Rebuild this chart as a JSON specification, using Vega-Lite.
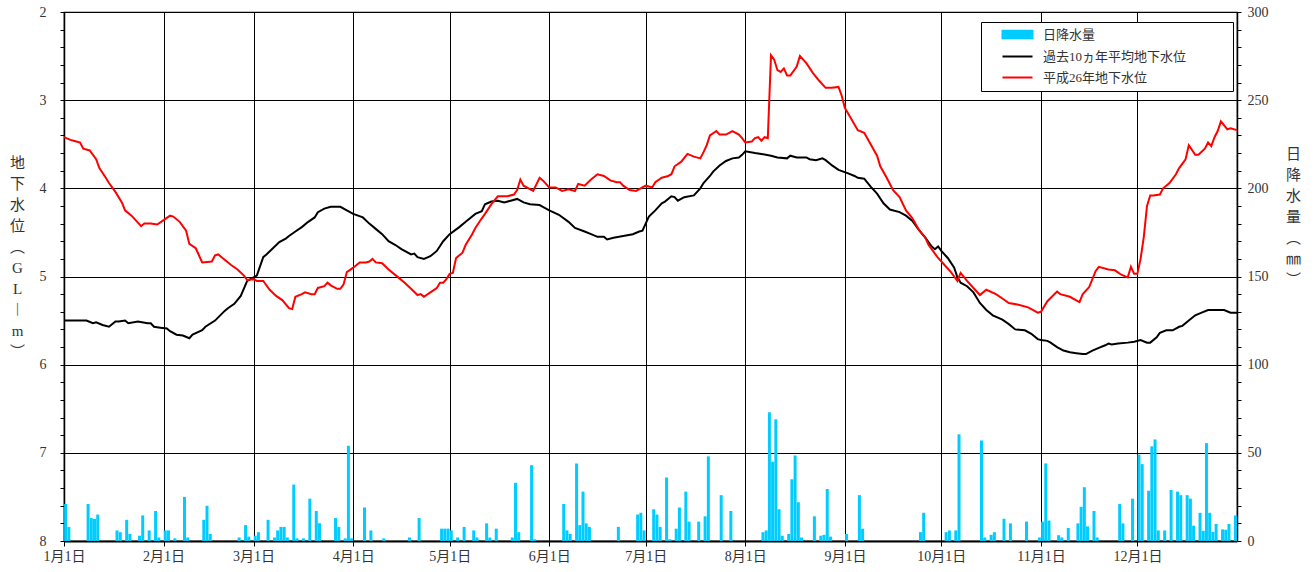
{
  "$schema": "https://vega.github.io/schema/vega-lite/v6.json",
  "width": 1173,
  "height": 529,
  "autosize": {"type": "none"},
  "padding": {"left": 64, "top": 12, "right": 78, "bottom": 31},
  "background": "white",
  "config": {
    "font": "Liberation Serif, Noto Sans CJK JP",
    "view": {"stroke": "#000", "strokeWidth": 1.2},
    "axis": {"labelFont": "Liberation Serif, Noto Sans CJK JP", "titleFont": "Liberation Serif, Noto Sans CJK JP", "labelColor": "#333", "titleColor": "#333", "tickColor": "#000", "domainColor": "#000", "labelOverlap": false, "labelBound": false, "labelFlush": false, "titleFontWeight": "normal"}
  },
  "datasets": {
    "rain": [
      {"day":0,"mm":21},{"day":1,"mm":8},{"day":7,"mm":21},{"day":8,"mm":13},{"day":9,"mm":12.5},{"day":10,"mm":15},{"day":16,"mm":6},{"day":17,"mm":5},{"day":19,"mm":12},{"day":20,"mm":4},{"day":23,"mm":3},{"day":24,"mm":14.5},{"day":26,"mm":6},{"day":28,"mm":17},{"day":29,"mm":2},{"day":31,"mm":6},{"day":32,"mm":6},{"day":34,"mm":1.5},{"day":37,"mm":25},{"day":38,"mm":2},{"day":43,"mm":12},{"day":44,"mm":20},{"day":45,"mm":4},{"day":54,"mm":2},{"day":56,"mm":9},{"day":57,"mm":2.5},{"day":59,"mm":3},{"day":60,"mm":5},
      {"day":63,"mm":12},{"day":65,"mm":2},{"day":66,"mm":6},{"day":67,"mm":8},{"day":68,"mm":8},{"day":69,"mm":2},{"day":71,"mm":32},{"day":72,"mm":1.5},{"day":74,"mm":1.5},{"day":76,"mm":24},{"day":78,"mm":17},{"day":79,"mm":10},{"day":84,"mm":13},{"day":85,"mm":8},{"day":87,"mm":1.5},{"day":88,"mm":54},{"day":89,"mm":1.5},{"day":93,"mm":19},{"day":95,"mm":6},{"day":99,"mm":1.5},{"day":107,"mm":2},{"day":110,"mm":13},{"day":117,"mm":7},{"day":118,"mm":7},{"day":119,"mm":7},
      {"day":120,"mm":6},{"day":122,"mm":2},{"day":124,"mm":8},{"day":127,"mm":6},{"day":128,"mm":2},{"day":131,"mm":10},{"day":132,"mm":2},{"day":134,"mm":7},{"day":139,"mm":2},{"day":140,"mm":33},{"day":141,"mm":5},{"day":145,"mm":43},{"day":146,"mm":1},{"day":155,"mm":21},{"day":156,"mm":6},{"day":157,"mm":4},{"day":159,"mm":44},{"day":160,"mm":9},{"day":161,"mm":28},{"day":162,"mm":10},{"day":163,"mm":8},{"day":172,"mm":8},{"day":178,"mm":15},{"day":179,"mm":16},{"day":180,"mm":6},
      {"day":183,"mm":18},{"day":184,"mm":15},{"day":185,"mm":8},{"day":187,"mm":36},{"day":188,"mm":1},{"day":190,"mm":7},{"day":191,"mm":19},{"day":193,"mm":28},{"day":194,"mm":11},{"day":197,"mm":11},{"day":199,"mm":14},{"day":200,"mm":48},{"day":204,"mm":26},{"day":207,"mm":17},
      {"day":217,"mm":5},{"day":218,"mm":6},{"day":219,"mm":73},{"day":220,"mm":45},{"day":221,"mm":69},{"day":222,"mm":18},{"day":223,"mm":3},{"day":225,"mm":4},{"day":226,"mm":35},{"day":227,"mm":48.5},{"day":228,"mm":22},{"day":229,"mm":2},{"day":233,"mm":14},{"day":235,"mm":3},{"day":236,"mm":3.5},{"day":237,"mm":29.5},{"day":238,"mm":2.5},
      {"day":243,"mm":4},{"day":247,"mm":26},{"day":248,"mm":7},{"day":266,"mm":5},{"day":267,"mm":16},{"day":274,"mm":5},{"day":275,"mm":6},{"day":277,"mm":6},{"day":278,"mm":60.5},{"day":285,"mm":57},{"day":286,"mm":2},{"day":288,"mm":3.5},{"day":289,"mm":5},{"day":292,"mm":12.6},{"day":294,"mm":10},{"day":299,"mm":11},{"day":303,"mm":2},
      {"day":304,"mm":11},{"day":305,"mm":44},{"day":306,"mm":11.6},{"day":309,"mm":3.3},{"day":310,"mm":2},{"day":312,"mm":7.4},{"day":315,"mm":10},{"day":316,"mm":19.4},{"day":317,"mm":30.5},{"day":318,"mm":8.3},{"day":320,"mm":17},{"day":321,"mm":2},{"day":328,"mm":21},{"day":329,"mm":10},{"day":332,"mm":24},
      {"day":334,"mm":49},{"day":335,"mm":43.6},{"day":337,"mm":28.5},{"day":338,"mm":53.7},{"day":339,"mm":57.6},{"day":340,"mm":6},{"day":342,"mm":6},{"day":344,"mm":29},{"day":346,"mm":28},{"day":347,"mm":26},{"day":349,"mm":26},{"day":350,"mm":24},{"day":351,"mm":8.7},{"day":353,"mm":16},{"day":354,"mm":5.8},{"day":355,"mm":55.5},{"day":356,"mm":16},{"day":357,"mm":5.2},{"day":358,"mm":9.7},{"day":360,"mm":6.6},{"day":361,"mm":6.4},{"day":362,"mm":9.7},{"day":364,"mm":14.5}
    ],
    "avg": [
      {"day":0,"m":5.50},{"day":3,"m":5.50},{"day":7,"m":5.50},{"day":9,"m":5.53},{"day":10,"m":5.52},{"day":12,"m":5.55},{"day":14,"m":5.57},{"day":16,"m":5.51},{"day":17,"m":5.51},{"day":19,"m":5.50},{"day":20,"m":5.53},{"day":23,"m":5.51},{"day":26,"m":5.53},{"day":27,"m":5.53},{"day":28,"m":5.57},{"day":30,"m":5.58},{"day":32,"m":5.59},{"day":33,"m":5.62},{"day":35,"m":5.66},{"day":37,"m":5.67},{"day":39,"m":5.70},{"day":40,"m":5.66},{"day":43,"m":5.61},{"day":44,"m":5.57},{"day":47,"m":5.50},{"day":50,"m":5.39},{"day":51,"m":5.36},{"day":53,"m":5.31},{"day":55,"m":5.22},{"day":57,"m":5.05},{"day":59,"m":5.01},{"day":60,"m":4.99},
      {"day":62,"m":4.78},{"day":63,"m":4.75},{"day":65,"m":4.68},{"day":67,"m":4.61},{"day":69,"m":4.57},{"day":70,"m":4.54},{"day":72,"m":4.49},{"day":74,"m":4.44},{"day":76,"m":4.38},{"day":78,"m":4.33},{"day":79,"m":4.27},{"day":81,"m":4.23},{"day":83,"m":4.21},{"day":86,"m":4.21},{"day":88,"m":4.25},{"day":90,"m":4.29},{"day":93,"m":4.33},{"day":95,"m":4.40},{"day":97,"m":4.46},{"day":99,"m":4.52},{"day":101,"m":4.60},{"day":103,"m":4.64},{"day":105,"m":4.69},{"day":108,"m":4.75},{"day":109,"m":4.74},{"day":110,"m":4.78},{"day":112,"m":4.80},{"day":114,"m":4.77},{"day":116,"m":4.71},{"day":118,"m":4.60},
      {"day":120,"m":4.52},{"day":123,"m":4.44},{"day":125,"m":4.38},{"day":128,"m":4.29},{"day":130,"m":4.26},{"day":131,"m":4.18},{"day":133,"m":4.15},{"day":135,"m":4.14},{"day":137,"m":4.16},{"day":139,"m":4.14},{"day":141,"m":4.12},{"day":143,"m":4.16},{"day":145,"m":4.18},{"day":148,"m":4.19},{"day":149,"m":4.21},{"day":151,"m":4.25},{"day":154,"m":4.30},{"day":157,"m":4.38},{"day":159,"m":4.45},{"day":162,"m":4.49},{"day":164,"m":4.52},{"day":166,"m":4.55},{"day":168,"m":4.55},{"day":169,"m":4.58},{"day":171,"m":4.56},{"day":174,"m":4.54},{"day":177,"m":4.52},{"day":179,"m":4.49},{"day":180,"m":4.48},
      {"day":181,"m":4.40},{"day":182,"m":4.32},{"day":184,"m":4.25},{"day":186,"m":4.17},{"day":187,"m":4.15},{"day":189,"m":4.09},{"day":190,"m":4.10},{"day":191,"m":4.14},{"day":193,"m":4.10},{"day":196,"m":4.08},{"day":198,"m":4.00},{"day":199,"m":3.94},{"day":201,"m":3.86},{"day":202,"m":3.81},{"day":204,"m":3.74},{"day":206,"m":3.69},{"day":208,"m":3.66},{"day":210,"m":3.65},{"day":211,"m":3.62},{"day":212,"m":3.58},{"day":215,"m":3.60},{"day":217,"m":3.61},{"day":220,"m":3.63},{"day":222,"m":3.65},{"day":225,"m":3.66},{"day":226,"m":3.63},{"day":228,"m":3.65},{"day":231,"m":3.65},{"day":232,"m":3.67},{"day":234,"m":3.68},{"day":236,"m":3.66},{"day":237,"m":3.68},{"day":239,"m":3.74},{"day":241,"m":3.79},
      {"day":244,"m":3.83},{"day":246,"m":3.86},{"day":247,"m":3.88},{"day":249,"m":3.89},{"day":251,"m":3.98},{"day":253,"m":4.06},{"day":255,"m":4.17},{"day":257,"m":4.24},{"day":260,"m":4.27},{"day":262,"m":4.31},{"day":264,"m":4.37},{"day":266,"m":4.47},{"day":268,"m":4.56},{"day":270,"m":4.66},{"day":271,"m":4.69},{"day":272,"m":4.66},{"day":273,"m":4.71},{"day":275,"m":4.79},{"day":277,"m":4.90},{"day":278,"m":5.01},{"day":279,"m":5.07},{"day":281,"m":5.11},{"day":283,"m":5.18},{"day":285,"m":5.30},{"day":287,"m":5.38},{"day":289,"m":5.44},{"day":292,"m":5.49},{"day":294,"m":5.54},{"day":296,"m":5.60},{"day":299,"m":5.61},{"day":301,"m":5.65},{"day":303,"m":5.71},
      {"day":304,"m":5.72},{"day":306,"m":5.73},{"day":307,"m":5.75},{"day":309,"m":5.80},{"day":311,"m":5.84},{"day":313,"m":5.86},{"day":315,"m":5.87},{"day":317,"m":5.88},{"day":318,"m":5.88},{"day":320,"m":5.84},{"day":322,"m":5.81},{"day":324,"m":5.78},{"day":325,"m":5.76},{"day":326,"m":5.77},{"day":328,"m":5.76},{"day":331,"m":5.75},{"day":333,"m":5.74},{"day":335,"m":5.72},{"day":337,"m":5.75},{"day":338,"m":5.75},{"day":340,"m":5.69},{"day":341,"m":5.64},{"day":343,"m":5.61},{"day":345,"m":5.61},{"day":347,"m":5.57},{"day":348,"m":5.56},{"day":350,"m":5.50},{"day":352,"m":5.44},{"day":354,"m":5.41},{"day":356,"m":5.38},{"day":358,"m":5.38},{"day":361,"m":5.38},{"day":363,"m":5.41},{"day":365,"m":5.41}
    ],
    "h26": [
      {"day":0,"m":3.42},{"day":2,"m":3.45},{"day":3,"m":3.46},{"day":5,"m":3.48},{"day":6,"m":3.55},{"day":8,"m":3.57},{"day":10,"m":3.67},{"day":11,"m":3.77},{"day":13,"m":3.88},{"day":14,"m":3.94},{"day":16,"m":4.04},{"day":18,"m":4.16},{"day":19,"m":4.25},{"day":21,"m":4.31},{"day":24,"m":4.43},{"day":25,"m":4.40},{"day":27,"m":4.40},{"day":29,"m":4.41},{"day":31,"m":4.36},{"day":33,"m":4.31},{"day":34,"m":4.32},{"day":36,"m":4.38},{"day":38,"m":4.48},{"day":39,"m":4.63},{"day":41,"m":4.68},{"day":43,"m":4.84},{"day":46,"m":4.83},{"day":47,"m":4.76},{"day":48,"m":4.75},{"day":50,"m":4.81},{"day":52,"m":4.87},{"day":54,"m":4.92},{"day":56,"m":4.99},{"day":57,"m":5.04},{"day":59,"m":5.03},
      {"day":60,"m":5.05},{"day":62,"m":5.05},{"day":64,"m":5.15},{"day":66,"m":5.22},{"day":68,"m":5.27},{"day":70,"m":5.36},{"day":71,"m":5.37},{"day":72,"m":5.23},{"day":74,"m":5.20},{"day":75,"m":5.18},{"day":77,"m":5.20},{"day":78,"m":5.20},{"day":79,"m":5.13},{"day":81,"m":5.11},{"day":82,"m":5.07},{"day":83,"m":5.10},{"day":85,"m":5.14},{"day":86,"m":5.14},{"day":87,"m":5.09},{"day":88,"m":4.95},{"day":90,"m":4.90},{"day":92,"m":4.84},{"day":94,"m":4.84},{"day":95,"m":4.83},{"day":96,"m":4.80},{"day":97,"m":4.84},{"day":99,"m":4.85},{"day":101,"m":4.92},{"day":104,"m":5.01},{"day":106,"m":5.07},{"day":108,"m":5.14},{"day":110,"m":5.21},{"day":111,"m":5.20},{"day":112,"m":5.23},{"day":114,"m":5.18},{"day":116,"m":5.13},{"day":117,"m":5.07},{"day":118,"m":5.07},{"day":119,"m":5.03},
      {"day":120,"m":4.97},{"day":121,"m":4.96},{"day":122,"m":4.79},{"day":124,"m":4.73},{"day":125,"m":4.64},{"day":127,"m":4.52},{"day":128,"m":4.45},{"day":130,"m":4.34},{"day":131,"m":4.29},{"day":133,"m":4.18},{"day":135,"m":4.09},{"day":138,"m":4.09},{"day":140,"m":4.07},{"day":141,"m":4.02},{"day":142,"m":3.90},{"day":143,"m":3.97},{"day":146,"m":4.03},{"day":148,"m":3.88},{"day":149,"m":3.91},{"day":151,"m":3.99},{"day":153,"m":3.99},{"day":155,"m":4.03},{"day":157,"m":4.01},{"day":159,"m":4.03},{"day":160,"m":3.95},{"day":162,"m":3.97},{"day":164,"m":3.90},{"day":166,"m":3.84},{"day":168,"m":3.86},{"day":170,"m":3.91},{"day":172,"m":3.93},{"day":173,"m":3.93},{"day":174,"m":3.97},{"day":176,"m":4.02},{"day":178,"m":4.03},{"day":180,"m":3.99},
      {"day":181,"m":3.97},{"day":182,"m":3.98},{"day":183,"m":3.99},{"day":184,"m":3.93},{"day":186,"m":3.88},{"day":188,"m":3.86},{"day":189,"m":3.84},{"day":190,"m":3.75},{"day":192,"m":3.70},{"day":194,"m":3.61},{"day":196,"m":3.64},{"day":198,"m":3.66},{"day":199,"m":3.59},{"day":200,"m":3.51},{"day":201,"m":3.40},{"day":203,"m":3.35},{"day":204,"m":3.39},{"day":206,"m":3.39},{"day":208,"m":3.35},{"day":210,"m":3.39},{"day":211,"m":3.43},{"day":212,"m":3.48},{"day":214,"m":3.47},{"day":215,"m":3.43},{"day":216,"m":3.42},{"day":217,"m":3.46},{"day":218,"m":3.42},{"day":219,"m":3.43},{"day":220,"m":2.49},{"day":221,"m":2.54},{"day":222,"m":2.66},{"day":223,"m":2.68},{"day":224,"m":2.64},{"day":225,"m":2.72},{"day":226,"m":2.72},{"day":228,"m":2.62},{"day":229,"m":2.50},{"day":231,"m":2.58},{"day":233,"m":2.69},{"day":235,"m":2.78},{"day":237,"m":2.86},{"day":239,"m":2.86},{"day":241,"m":2.85},{"day":242,"m":2.95},
      {"day":243,"m":3.09},{"day":244,"m":3.15},{"day":247,"m":3.34},{"day":249,"m":3.37},{"day":251,"m":3.50},{"day":253,"m":3.63},{"day":254,"m":3.75},{"day":256,"m":3.88},{"day":258,"m":4.02},{"day":260,"m":4.10},{"day":262,"m":4.25},{"day":264,"m":4.34},{"day":266,"m":4.47},{"day":268,"m":4.56},{"day":269,"m":4.64},{"day":271,"m":4.74},{"day":272,"m":4.79},{"day":274,"m":4.87},{"day":276,"m":4.95},{"day":277,"m":5.00},{"day":278,"m":5.05},{"day":279,"m":4.96},{"day":281,"m":5.05},{"day":283,"m":5.13},{"day":285,"m":5.21},{"day":287,"m":5.15},{"day":290,"m":5.20},{"day":292,"m":5.25},{"day":294,"m":5.30},{"day":297,"m":5.32},{"day":300,"m":5.35},{"day":302,"m":5.39},{"day":303,"m":5.41},
      {"day":304,"m":5.40},{"day":306,"m":5.28},{"day":309,"m":5.17},{"day":310,"m":5.20},{"day":313,"m":5.23},{"day":315,"m":5.27},{"day":316,"m":5.29},{"day":317,"m":5.20},{"day":319,"m":5.12},{"day":321,"m":4.94},{"day":322,"m":4.89},{"day":325,"m":4.92},{"day":327,"m":4.93},{"day":329,"m":4.98},{"day":331,"m":5.01},{"day":332,"m":4.89},{"day":333,"m":4.97},{"day":334,"m":4.97},{"day":335,"m":4.80},{"day":336,"m":4.55},{"day":337,"m":4.20},{"day":338,"m":4.08},{"day":339,"m":4.08},{"day":341,"m":4.07},{"day":342,"m":4.00},{"day":344,"m":3.94},{"day":346,"m":3.84},{"day":347,"m":3.77},{"day":349,"m":3.67},{"day":350,"m":3.51},{"day":352,"m":3.62},{"day":353,"m":3.62},{"day":355,"m":3.55},{"day":356,"m":3.48},{"day":357,"m":3.52},{"day":358,"m":3.42},{"day":359,"m":3.35},{"day":360,"m":3.24},{"day":362,"m":3.33},{"day":363,"m":3.32},{"day":365,"m":3.34}
    ]
  },
  "encoding": {
    "x": {
      "field": "day",
      "type": "quantitative",
      "scale": {"domain": [0, 365], "nice": false, "zero": false, "padding": 0},
      "axis": {
        "title": null,
        "values": [0, 31, 59, 90, 120, 151, 181, 212, 243, 273, 304, 334],
        "labelExpr": "['1月1日','2月1日','3月1日','4月1日','5月1日','6月1日','7月1日','8月1日','9月1日','10月1日','11月1日','12月1日'][indexof([0,31,59,90,120,151,181,212,243,273,304,334], datum.value)]",
        "grid": true,
        "gridColor": "#000",
        "gridWidth": 1,
        "domainWidth": 2,
        "tickSize": 5,
        "labelFontSize": 14,
        "labelPadding": 3
      }
    }
  },
  "layer": [
    {
      "data": {"name": "rain"},
      "mark": {"type": "bar", "size": 3, "xOffset": 1.6},
      "encoding": {
        "y": {
          "field": "mm",
          "type": "quantitative",
          "scale": {"domain": [0, 300], "nice": false, "zero": true},
          "axis": {
            "orient": "right",
            "values": [0,10,20,30,40,50,60,70,80,90,100,110,120,130,140,150,160,170,180,190,200,210,220,230,240,250,260,270,280,290,300],
            "labelExpr": "datum.value % 50 == 0 ? format(datum.value, 'd') : ''",
            "grid": false,
            "tickSize": 4,
            "domainWidth": 1.5,
            "labelFontSize": 14,
            "labelPadding": 6,
            "title": ["日", "降", "水", "量", "︵", "㎜", "︶"],
            "titleAngle": 0,
            "titleX": 56,
            "titleY": 141,
            "titleAlign": "center",
            "titleBaseline": "middle",
            "titleLineHeight": 21,
            "titleFontSize": 15
          }
        },
        "color": {
          "datum": "日降水量",
          "type": "nominal",
          "scale": {"domain": ["日降水量", "過去10ヵ年平均地下水位", "平成26年地下水位"], "range": ["#00CCFF", "#000000", "#FF0000"]},
          "legend": {
            "title": null,
            "orient": "none",
            "legendX": 917,
            "legendY": 10,
            "strokeColor": "#000",
            "fillColor": "#fff",
            "padding": 6,
            "symbolOffset": 24,
            "symbolSize": 100,
            "symbolStrokeWidth": 2,
            "labelOffset": 19,
            "labelLimit": 400,
            "labelFontSize": 13,
            "labelFont": "Liberation Serif, Noto Sans CJK JP",
            "labelColor": "#333",
            "rowPadding": 7,
            "labelExpr": "datum.label + '⠀⠀⠀⠀'",
            "encode": {
              "symbols": {
                "update": {
                  "shape": {"signal": "datum.value === '日降水量' ? 'M-3,-0.75H3V0.75H-3Z' : 'M-3,0H3'"},
                  "fill": {"signal": "datum.value === '日降水量' ? '#00CCFF' : 'transparent'"},
                  "stroke": {"signal": "datum.value === '日降水量' ? 'transparent' : (datum.value === '平成26年地下水位' ? '#FF0000' : '#000000')"},
                  "strokeWidth": {"value": 2},
                  "opacity": {"value": 1}
                }
              }
            }
          }
        }
      }
    },
    {
      "layer": [
        {
          "data": {"name": "avg"},
          "mark": {"type": "line", "strokeWidth": 2},
          "encoding": {
            "y": {
              "field": "m",
              "type": "quantitative",
              "scale": {"domain": [2, 8], "reverse": true, "nice": false, "zero": false},
              "axis": {
                "orient": "left",
                "values": [2,2.2,2.4,2.6,2.8,3,3.2,3.4,3.6,3.8,4,4.2,4.4,4.6,4.8,5,5.2,5.4,5.6,5.8,6,6.2,6.4,6.6,6.8,7,7.2,7.4,7.6,7.8,8],
                "labelExpr": "abs(datum.value - round(datum.value)) < 0.01 ? format(datum.value, 'd') : ''",
                "grid": true,
                "gridColor": "#000",
                "gridWidth": 1,
                "gridOpacity": {"condition": {"test": "abs(datum.value - round(datum.value)) < 0.01", "value": 1}, "value": 0},
                "tickSize": 4,
                "domainWidth": 1.5,
                "labelFontSize": 14,
                "labelPadding": 14,
                "title": ["地", "下", "水", "位", "︵", "G", "L", "︱", "m", "︶"],
                "titleAngle": 0,
                "titleX": -47,
                "titleY": 150,
                "titleAlign": "center",
                "titleBaseline": "middle",
                "titleLineHeight": 21,
                "titleFontSize": 15
              }
            },
            "color": {"datum": "過去10ヵ年平均地下水位", "type": "nominal"}
          }
        },
        {
          "data": {"name": "h26"},
          "mark": {"type": "line", "strokeWidth": 2},
          "encoding": {
            "y": {
              "field": "m",
              "type": "quantitative",
              "scale": {"domain": [2, 8], "reverse": true, "nice": false, "zero": false},
              "axis": {
                "orient": "left",
                "values": [2,2.2,2.4,2.6,2.8,3,3.2,3.4,3.6,3.8,4,4.2,4.4,4.6,4.8,5,5.2,5.4,5.6,5.8,6,6.2,6.4,6.6,6.8,7,7.2,7.4,7.6,7.8,8],
                "labelExpr": "abs(datum.value - round(datum.value)) < 0.01 ? format(datum.value, 'd') : ''",
                "grid": true,
                "gridColor": "#000",
                "gridWidth": 1,
                "gridOpacity": {"condition": {"test": "abs(datum.value - round(datum.value)) < 0.01", "value": 1}, "value": 0},
                "tickSize": 4,
                "domainWidth": 1.5,
                "labelFontSize": 14,
                "labelPadding": 14,
                "title": ["地", "下", "水", "位", "︵", "G", "L", "︱", "m", "︶"],
                "titleAngle": 0,
                "titleX": -47,
                "titleY": 150,
                "titleAlign": "center",
                "titleBaseline": "middle",
                "titleLineHeight": 21,
                "titleFontSize": 15
              }
            },
            "color": {"datum": "平成26年地下水位", "type": "nominal"}
          }
        }
      ]
    }
  ],
  "resolve": {"scale": {"y": "independent"}}
}
